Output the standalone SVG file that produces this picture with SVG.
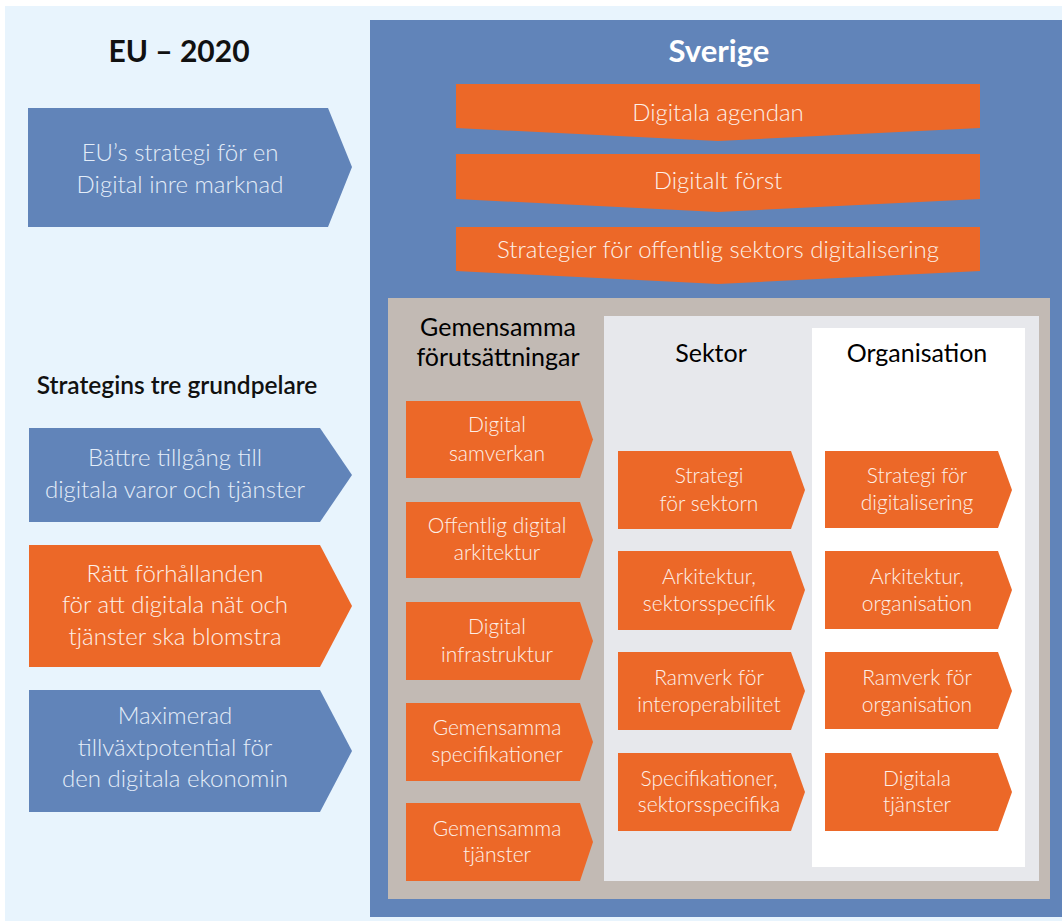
<svg xmlns="http://www.w3.org/2000/svg" width="1062" height="921" viewBox="0 0 1062 921">
<style>
  .bg{fill:#e8f4fd}
  .blue{fill:#6184b9}
  .orange{fill:#ec6828}
  .gray{fill:#c2bab4}
  .lgray{fill:#e7e8ec}
  .white{fill:#ffffff}
  text{font-family:Lato,"Open Sans","Liberation Sans",sans-serif;text-anchor:middle}
  .title{font-size:30px;font-weight:bold;fill:#111}
  .sub{font-size:24.5px;font-weight:600;fill:#111}
  .stitle{font-size:31px;font-weight:bold;fill:#ffffff}
  .lt{font-size:24px;font-weight:300;fill:#e4edf8}
  .lto{font-size:24px;font-weight:300;fill:#fdf0e8}
  .bt{font-size:24px;font-weight:300;fill:#fdf0e8}
  .hd{font-size:25px;font-weight:normal;fill:#000}
  .sm{font-size:21px;font-weight:300;fill:#fdf0e8}
</style>
<rect x="0" y="0" width="1062" height="921" fill="#ffffff"/>
<rect class="bg" x="5" y="6" width="1057" height="915"/>

<g id="eu-title"><text class="title" x="179" y="62">EU – 2020</text></g>

<g id="eu-strategi">
  <polygon class="blue" points="28,108 328,108 352,167 328,227 28,227"/>
  <text class="lt" x="180" y="161">EU’s strategi för en</text>
  <text class="lt" x="180" y="193">Digital inre marknad</text>
</g>

<g id="grundpelare-title"><text class="sub" x="177" y="394">Strategins tre grundpelare</text></g>

<g id="pelare-1">
  <polygon class="blue" points="29,428 320,428 352,475 320,522 29,522"/>
  <text class="lt" x="175" y="466">Bättre tillgång till</text>
  <text class="lt" x="175" y="498">digitala varor och tjänster</text>
</g>
<g id="pelare-2">
  <polygon class="orange" points="29,545 320,545 352,606 320,667 29,667"/>
  <text class="lto" x="175" y="582">Rätt förhållanden</text>
  <text class="lto" x="175" y="613">för att digitala nät och</text>
  <text class="lto" x="175" y="645">tjänster ska blomstra</text>
</g>
<g id="pelare-3">
  <polygon class="blue" points="29,690 320,690 352,751 320,812 29,812"/>
  <text class="lt" x="175" y="724">Maximerad</text>
  <text class="lt" x="175" y="756">tillväxtpotential för</text>
  <text class="lt" x="175" y="787">den digitala ekonomin</text>
</g>

<g id="sverige">
  <rect class="blue" x="370" y="20" width="692" height="897"/>
  <text class="stitle" x="719" y="62">Sverige</text>
</g>

<g id="digitala-agendan">
  <polygon class="orange" points="456,84 980,84 980,128 718,141 456,128"/>
  <text class="bt" x="718" y="121">Digitala agendan</text>
</g>
<g id="digitalt-forst">
  <polygon class="orange" points="456,154 980,154 980,199 718,212 456,199"/>
  <text class="bt" x="718" y="189">Digitalt först</text>
</g>
<g id="strategier">
  <polygon class="orange" points="456,227 980,227 980,271 718,284 456,271"/>
  <text class="bt" x="718" y="258">Strategier för offentlig sektors digitalisering</text>
</g>

<g id="ramverk-panel">
  <rect class="gray" x="388" y="298" width="662" height="601"/>
  <rect class="lgray" x="604" y="316" width="435" height="565"/>
  <rect class="white" x="812" y="328" width="213" height="539"/>
</g>

<g id="gemensamma-header">
  <text class="hd" x="498" y="336">Gemensamma</text>
  <text class="hd" x="498" y="366">förutsättningar</text>
</g>
<g id="sektor-header"><text class="hd" x="711" y="362">Sektor</text></g>
<g id="organisation-header"><text class="hd" x="917" y="362">Organisation</text></g>

<g id="g1">
  <polygon class="orange" points="406,401 580,401 593,439.5 580,478 406,478"/>
  <text class="sm" x="497" y="432">Digital</text>
  <text class="sm" x="497" y="461">samverkan</text>
</g>
<g id="g2">
  <polygon class="orange" points="406,502 580,502 593,540 580,578 406,578"/>
  <text class="sm" x="497" y="533">Offentlig digital</text>
  <text class="sm" x="497" y="560">arkitektur</text>
</g>
<g id="g3">
  <polygon class="orange" points="406,602 580,602 593,641 580,680 406,680"/>
  <text class="sm" x="497" y="634">Digital</text>
  <text class="sm" x="497" y="662">infrastruktur</text>
</g>
<g id="g4">
  <polygon class="orange" points="406,703 580,703 593,742 580,781 406,781"/>
  <text class="sm" x="497" y="735">Gemensamma</text>
  <text class="sm" x="497" y="762">specifikationer</text>
</g>
<g id="g5">
  <polygon class="orange" points="406,803 580,803 593,842 580,881 406,881"/>
  <text class="sm" x="497" y="836">Gemensamma</text>
  <text class="sm" x="497" y="862">tjänster</text>
</g>

<g id="s1">
  <polygon class="orange" points="618,451 791,451 805,490 791,529 618,529"/>
  <text class="sm" x="709" y="483">Strategi</text>
  <text class="sm" x="709" y="511">för sektorn</text>
</g>
<g id="s2">
  <polygon class="orange" points="618,551 791,551 805,590 791,630 618,630"/>
  <text class="sm" x="709" y="584">Arkitektur,</text>
  <text class="sm" x="709" y="611">sektorsspecifik</text>
</g>
<g id="s3">
  <polygon class="orange" points="618,652 791,652 805,691 791,730 618,730"/>
  <text class="sm" x="709" y="685">Ramverk för</text>
  <text class="sm" x="709" y="712">interoperabilitet</text>
</g>
<g id="s4">
  <polygon class="orange" points="618,753 791,753 805,792 791,831 618,831"/>
  <text class="sm" x="709" y="786">Specifikationer,</text>
  <text class="sm" x="709" y="812">sektorsspecifika</text>
</g>

<g id="o1">
  <polygon class="orange" points="825,451 998,451 1012,490 998,528 825,528"/>
  <text class="sm" x="917" y="483">Strategi för</text>
  <text class="sm" x="917" y="510">digitalisering</text>
</g>
<g id="o2">
  <polygon class="orange" points="825,551 998,551 1012,590 998,629 825,629"/>
  <text class="sm" x="917" y="584">Arkitektur,</text>
  <text class="sm" x="917" y="611">organisation</text>
</g>
<g id="o3">
  <polygon class="orange" points="825,652 998,652 1012,691 998,729 825,729"/>
  <text class="sm" x="917" y="685">Ramverk för</text>
  <text class="sm" x="917" y="712">organisation</text>
</g>
<g id="o4">
  <polygon class="orange" points="825,753 998,753 1012,792 998,831 825,831"/>
  <text class="sm" x="917" y="786">Digitala</text>
  <text class="sm" x="917" y="812">tjänster</text>
</g>

<g id="connectors"></g>
</svg>
